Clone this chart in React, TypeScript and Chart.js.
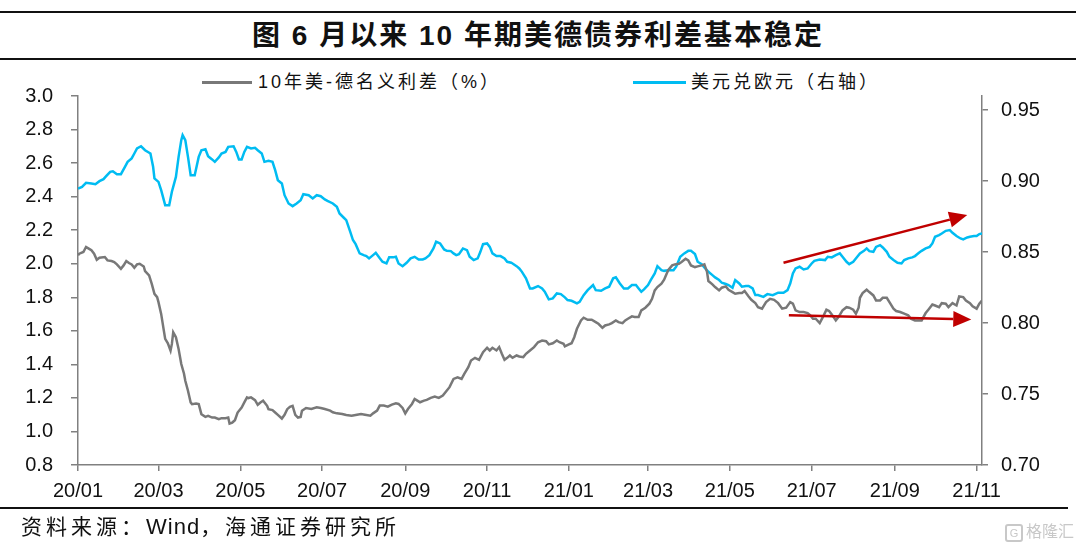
import React, { useEffect, useRef } from "react";
import { Chart, registerables } from "chart.js";

Chart.register(...registerables);

const FONT = '"Liberation Sans", "Noto Sans CJK SC", sans-serif';

// x axis: days since 2020-01-01
const tickDays = [0, 60, 121, 182, 244, 305, 366, 425, 486, 547, 609, 670];
const tickLabels = ["20/01", "20/03", "20/05", "20/07", "20/09", "20/11", "21/01", "21/03", "21/05", "21/07", "21/09", "21/11"];
const leftTicks = [0.8, 1.0, 1.2, 1.4, 1.6, 1.8, 2.0, 2.2, 2.4, 2.6, 2.8, 3.0];
const rightTicks = [0.7, 0.75, 0.8, 0.85, 0.9, 0.95];

// 10年美-德名义利差（%）
const spreadDays = [
  0, 1, 4, 6, 8, 10, 12, 14, 16, 20, 22, 25, 27, 29, 32, 34, 36, 38, 40, 42, 44, 46, 49, 50, 53, 55, 57, 59,
  60, 62, 64, 65, 67, 69, 70, 71, 73, 75, 77, 79, 80, 82, 84, 85, 88, 90, 92, 95, 97, 100, 102, 105, 107, 110,
  112, 113, 115, 117, 119, 122, 124, 126, 127, 129, 132, 134, 136, 138, 141, 142, 145, 147, 149, 152, 154, 156,
  158, 160, 162, 164, 166, 167, 170, 174, 178, 181, 184, 188, 190, 193, 197, 200, 204, 208, 211, 214, 218, 220,
  223, 225, 228, 231, 234, 237, 239, 242, 244, 246, 249, 251, 253, 255, 258, 260, 263, 266, 269, 272, 275, 277,
  280, 283, 286, 288, 291, 293, 296, 299, 302, 305, 307, 309, 312, 314, 316, 318, 320, 322, 324, 327, 329, 332,
  334, 337, 340, 343, 346, 349, 351, 354, 357, 359, 362, 363, 366, 368, 370, 372, 375, 377, 380, 383, 386, 388,
  391, 393, 396, 398, 401, 403, 406, 408, 410, 413, 415, 418, 420, 423, 426, 428, 430, 432, 435, 437, 440, 443,
  445, 448, 450, 453, 455, 457, 460, 462, 465, 467, 469, 470, 473, 475, 478, 480, 483, 485, 488, 490, 493, 495,
  497, 500, 502, 505, 507, 510, 513, 516, 519, 522, 525, 528, 531, 533, 535, 538, 541, 544, 546, 548, 550, 553,
  556, 558, 560, 562, 565, 567, 570, 573, 575, 578, 580, 582, 583, 585, 588, 590, 593, 595, 598, 600, 603, 605,
  608, 610, 613, 616, 619, 621, 624, 626, 629, 632, 634, 637, 639, 642, 644, 647, 649, 652, 655, 657, 660, 662,
  665, 667, 670, 672, 674,
];
const spreadValues = [
  2.05, 2.06, 2.07, 2.1, 2.09, 2.08, 2.06, 2.024, 2.036, 2.04, 2.02, 2.016, 2.01, 1.996, 1.97, 1.99, 2.016, 2.004,
  1.996, 1.976, 1.996, 2.0, 1.984, 1.956, 1.93, 1.88, 1.82, 1.801, 1.771, 1.701, 1.601, 1.552, 1.526, 1.482,
  1.522, 1.591, 1.562, 1.492, 1.402, 1.346, 1.302, 1.243, 1.173, 1.163, 1.167, 1.163, 1.103, 1.087, 1.093, 1.083,
  1.083, 1.073, 1.079, 1.079, 1.083, 1.047, 1.053, 1.067, 1.113, 1.143, 1.173, 1.203, 1.199, 1.203, 1.187, 1.159,
  1.173, 1.183, 1.153, 1.133, 1.127, 1.113, 1.099, 1.077, 1.099, 1.133, 1.147, 1.153, 1.099, 1.083, 1.087, 1.124,
  1.14, 1.134, 1.144, 1.14, 1.134, 1.124, 1.114, 1.108, 1.104, 1.098, 1.094, 1.1, 1.104, 1.1, 1.094, 1.108, 1.124,
  1.154, 1.154, 1.148, 1.16, 1.168, 1.164, 1.14, 1.108, 1.134, 1.164, 1.194, 1.184, 1.174, 1.184, 1.188, 1.2,
  1.208, 1.2, 1.214, 1.244, 1.264, 1.313, 1.323, 1.313, 1.343, 1.383, 1.423, 1.439, 1.427, 1.473, 1.499, 1.483,
  1.499, 1.483, 1.503, 1.463, 1.427, 1.439, 1.453, 1.439, 1.453, 1.447, 1.443, 1.463, 1.483, 1.503, 1.532, 1.542,
  1.538, 1.519, 1.526, 1.542, 1.532, 1.523, 1.507, 1.519, 1.526, 1.562, 1.612, 1.662, 1.678, 1.666, 1.666, 1.652,
  1.642, 1.618, 1.632, 1.638, 1.646, 1.662, 1.652, 1.646, 1.662, 1.672, 1.686, 1.682, 1.682, 1.722, 1.738, 1.762,
  1.791, 1.841, 1.861, 1.881, 1.905, 1.961, 1.99, 1.996, 2.0, 2.01, 2.03, 2.02, 1.99, 1.98, 1.984, 1.99, 1.996,
  1.951, 1.897, 1.877, 1.861, 1.841, 1.857, 1.865, 1.845, 1.831, 1.821, 1.825, 1.825, 1.837, 1.805, 1.785, 1.765,
  1.741, 1.732, 1.771, 1.791, 1.785, 1.765, 1.732, 1.738, 1.771, 1.762, 1.722, 1.712, 1.712, 1.706, 1.692, 1.672,
  1.672, 1.646, 1.692, 1.726, 1.718, 1.698, 1.662, 1.682, 1.722, 1.741, 1.738, 1.726, 1.702, 1.738, 1.797, 1.825,
  1.845, 1.831, 1.811, 1.781, 1.781, 1.797, 1.797, 1.771, 1.732, 1.718, 1.712, 1.702, 1.692, 1.672, 1.662, 1.662,
  1.662, 1.706, 1.726, 1.757, 1.751, 1.741, 1.765, 1.762, 1.741, 1.765, 1.751, 1.805, 1.801, 1.781, 1.765, 1.746,
  1.732, 1.762, 1.781,
];

// 美元兑欧元（右轴）
const usdEurDays = [
  0, 3, 6, 10, 13, 16, 19, 21, 24, 26, 29, 32, 35, 37, 40, 42, 44, 47, 50, 54, 56, 57, 60, 62, 64, 65, 68, 70, 72,
  73, 75, 77, 78, 80, 82, 84, 87, 90, 92, 95, 97, 100, 102, 105, 107, 110, 112, 116, 118, 120, 122, 124, 126, 129,
  132, 134, 137, 139, 142, 145, 147, 149, 152, 154, 157, 160, 163, 166, 168, 172, 175, 178, 181, 184, 186, 190,
  193, 195, 198, 200, 203, 205, 207, 210, 213, 215, 217, 220, 222, 225, 227, 230, 232, 235, 237, 239, 242, 245,
  248, 251, 254, 257, 259, 262, 265, 267, 270, 273, 275, 278, 280, 282, 284, 287, 290, 292, 295, 298, 300, 302,
  305, 307, 309, 312, 315, 318, 320, 323, 324, 327, 329, 331, 334, 337, 339, 343, 346, 348, 351, 354, 357, 360,
  363, 365, 368, 372, 374, 377, 380, 384, 386, 390, 393, 396, 399, 401, 404, 407, 410, 413, 416, 418, 420, 422,
  425, 427, 430, 432, 435, 437, 440, 444, 446, 449, 452, 455, 457, 460, 462, 465, 467, 470, 473, 475, 478, 480,
  483, 485, 488, 490, 493, 495, 498, 500, 503, 505, 507, 511, 514, 518, 522, 526, 529, 531, 533, 535, 538, 541,
  544, 547, 549, 553, 557, 559, 562, 565, 568, 570, 573, 575, 578, 581, 583, 586, 588, 590, 593, 595, 598, 600,
  603, 605, 608, 611, 614, 616, 619, 622, 624, 627, 629, 632, 635, 637, 639, 642, 644, 647, 650, 652, 655, 658,
  660, 663, 665, 668, 670, 672, 674,
];
const usdEurValues = [
  0.8948, 0.896, 0.8988, 0.8984, 0.8979, 0.9, 0.9014, 0.9035, 0.9066, 0.907, 0.9049, 0.9049, 0.9101, 0.9136,
  0.916, 0.9195, 0.923, 0.9246, 0.9218, 0.9195, 0.9101, 0.9019, 0.8995, 0.8937, 0.8866, 0.8831, 0.8831, 0.8925,
  0.8995, 0.903, 0.9171, 0.9289, 0.9324, 0.9289, 0.9171, 0.9042, 0.9042, 0.9171, 0.9218, 0.9225, 0.9176, 0.9153,
  0.9136, 0.9167, 0.9195, 0.9206, 0.9242, 0.9246, 0.9206, 0.9153, 0.9153, 0.9206, 0.9242, 0.923, 0.9235, 0.9218,
  0.9195, 0.9136, 0.9143, 0.9136, 0.9077, 0.9007, 0.8984, 0.8901, 0.8843, 0.8824, 0.8843, 0.8866, 0.8908, 0.8901,
  0.8878, 0.8901, 0.8894, 0.8871, 0.8861, 0.8843, 0.8819, 0.8772, 0.8744, 0.8725, 0.8643, 0.8585, 0.8556, 0.8491,
  0.8479, 0.8472, 0.8456, 0.8479, 0.8495, 0.8456, 0.8432, 0.842, 0.8463, 0.8463, 0.8467, 0.842, 0.8401, 0.8425,
  0.8456, 0.8467, 0.8448, 0.8448, 0.8456, 0.8479, 0.8526, 0.8573, 0.8561, 0.8519, 0.8509, 0.8507, 0.8491, 0.8479,
  0.8486, 0.8526, 0.8514, 0.8467, 0.8444, 0.8456, 0.8502, 0.8556, 0.8561, 0.8537, 0.8491, 0.8472, 0.8472, 0.8456,
  0.8432, 0.8425, 0.842, 0.8401, 0.8385, 0.8361, 0.8315, 0.8244, 0.8244, 0.8261, 0.8244, 0.8221, 0.8167, 0.8174,
  0.8209, 0.8204, 0.8181, 0.8162, 0.8157, 0.8139, 0.815, 0.8197, 0.8232, 0.8268, 0.8232, 0.8228, 0.8244, 0.8256,
  0.8315, 0.8322, 0.8279, 0.8244, 0.8244, 0.8268, 0.8268, 0.8244, 0.8221, 0.8237, 0.8268, 0.8303, 0.835, 0.8401,
  0.8373, 0.8368, 0.8373, 0.8373, 0.8397, 0.8467, 0.8491, 0.8509, 0.8509, 0.8486, 0.8432, 0.8415, 0.8392, 0.8361,
  0.8338, 0.8322, 0.8303, 0.8284, 0.8275, 0.8268, 0.8249, 0.8303, 0.8279, 0.8256, 0.8261, 0.8261, 0.8244, 0.8197,
  0.8197, 0.8185, 0.8204, 0.8197, 0.8214, 0.8214, 0.8232, 0.8279, 0.835, 0.8385, 0.8397, 0.8378, 0.8385, 0.842,
  0.8439, 0.8448, 0.8444, 0.8467, 0.8463, 0.8479, 0.8491, 0.8467, 0.8432, 0.8415, 0.8432, 0.8467, 0.8491, 0.8509,
  0.8526, 0.8507, 0.8502, 0.8537, 0.8549, 0.8533, 0.8502, 0.8467, 0.8444, 0.8425, 0.842, 0.8444, 0.8456, 0.8463,
  0.8472, 0.8495, 0.8509, 0.8526, 0.8537, 0.8561, 0.8608, 0.862, 0.8631, 0.865, 0.8655, 0.8636, 0.8613, 0.8596,
  0.8589, 0.8603, 0.8608, 0.8613, 0.8613, 0.8627, 0.8631,
];

// red trend arrows, in (day, right-axis value)
const arrowFromDays = [526, 530];
const arrowFromValues = [0.8425, 0.8056];
const arrowToDays = [663, 666];
const arrowToValues = [0.8761, 0.8026];

const arrowPlugin = {
  id: "trendArrows",
  afterDatasetsDraw(chart: any) {
    const { ctx, scales } = chart;
    const x = scales.x;
    const y = scales.yR;
    ctx.save();
    ctx.strokeStyle = "#C00000";
    ctx.fillStyle = "#C00000";
    ctx.lineWidth = 2.5;
    arrowFromDays.forEach((d, i) => {
      const x0 = x.getPixelForValue(d);
      const y0 = y.getPixelForValue(arrowFromValues[i]);
      const x1 = x.getPixelForValue(arrowToDays[i]);
      const y1 = y.getPixelForValue(arrowToValues[i]);
      const ang = Math.atan2(y1 - y0, x1 - x0);
      const len = 18;
      const half = 8;
      const bx = x1 - len * Math.cos(ang);
      const by = y1 - len * Math.sin(ang);
      ctx.beginPath();
      ctx.moveTo(x0, y0);
      ctx.lineTo(bx, by);
      ctx.stroke();
      ctx.beginPath();
      ctx.moveTo(x1, y1);
      ctx.lineTo(bx + half * Math.sin(ang), by - half * Math.cos(ang));
      ctx.lineTo(bx - half * Math.sin(ang), by + half * Math.cos(ang));
      ctx.closePath();
      ctx.fill();
    });
    ctx.restore();
  },
};

const axisGrid = {
  drawOnChartArea: false,
  drawTicks: true,
  color: "#808080",
  lineWidth: 1.5,
};

const SpreadChart = () => {
  const canvasRef = useRef<HTMLCanvasElement>(null);

  useEffect(() => {
    if (!canvasRef.current) return;
    const chart = new Chart(canvasRef.current, {
      type: "line",
      data: {
        datasets: [
          {
            label: "10年美-德名义利差（%）",
            data: spreadDays.map((d, i) => ({ x: d, y: spreadValues[i] })),
            borderColor: "#787878",
            borderWidth: 2.5,
            yAxisID: "y",
          },
          {
            label: "美元兑欧元（右轴）",
            data: usdEurDays.map((d, i) => ({ x: d, y: usdEurValues[i] })),
            borderColor: "#00BCF2",
            borderWidth: 2.5,
            yAxisID: "yR",
          },
        ],
      },
      options: {
        animation: false,
        responsive: false,
        devicePixelRatio: 1,
        layout: { padding: { top: 96, left: 0, right: 0, bottom: 0 } },
        elements: { point: { radius: 0 }, line: { tension: 0 } },
        plugins: { legend: { display: false }, tooltip: { enabled: false } },
        scales: {
          x: {
            type: "linear",
            min: 0,
            max: 674,
            afterBuildTicks: (s: any) => {
              s.ticks = tickDays.map((v) => ({ value: v }));
            },
            afterFit: (s: any) => {
              s.height = 85;
            },
            ticks: {
              autoSkip: false,
              maxRotation: 0,
              padding: 8,
              color: "#111",
              font: { family: FONT, size: 20 },
              callback: (_v: any, i: number) => tickLabels[i],
            },
            grid: { ...axisGrid, tickLength: 6 },
            border: { color: "#808080", width: 1.5 },
          },
          y: {
            position: "left",
            min: 0.8,
            max: 3.0,
            afterBuildTicks: (s: any) => {
              s.ticks = leftTicks.map((v) => ({ value: v }));
            },
            afterFit: (s: any) => {
              s.width = 78;
            },
            ticks: {
              padding: 18,
              color: "#111",
              font: { family: FONT, size: 20 },
              callback: (v: any) => Number(v).toFixed(1),
            },
            grid: { ...axisGrid, tickLength: 7 },
            border: { color: "#808080", width: 1.5 },
          },
          yR: {
            position: "right",
            min: 0.7,
            max: 0.96,
            afterBuildTicks: (s: any) => {
              s.ticks = rightTicks.map((v) => ({ value: v }));
            },
            afterFit: (s: any) => {
              s.width = 98;
            },
            ticks: {
              padding: 13,
              color: "#111",
              font: { family: FONT, size: 20 },
              callback: (v: any) => Number(v).toFixed(2),
            },
            grid: { ...axisGrid, tickLength: 6 },
            border: { color: "#808080", width: 1.5 },
          },
        },
      },
      plugins: [arrowPlugin],
    });
    return () => {
      chart.destroy();
    };
  }, []);

  return (
    <canvas
      ref={canvasRef}
      width={1080}
      height={550}
      style={{ position: "absolute", left: 0, top: 0, width: 1080, height: 550 }}
    />
  );
};

const App = () => {
  const legendText = {
    position: "absolute" as const,
    top: 70,
    fontSize: 18,
    letterSpacing: 3,
    lineHeight: "24px",
    color: "#111",
    whiteSpace: "nowrap" as const,
  };
  return (
    <div
      style={{
        position: "absolute",
        left: 0,
        top: 0,
        width: 1080,
        height: 550,
        background: "#fff",
        fontFamily: FONT,
        overflow: "hidden",
      }}
    >
      <div style={{ position: "absolute", left: 0, top: 11, width: 1076, borderTop: "2px solid #111" }} />
      <div
        style={{
          position: "absolute",
          left: 0,
          top: 14,
          width: 1076,
          height: 44,
          lineHeight: "44px",
          textAlign: "center",
          fontSize: 28,
          fontWeight: "bold",
          letterSpacing: 2,
          color: "#111",
          whiteSpace: "nowrap",
        }}
      >
        图 6 月以来 10 年期美德债券利差基本稳定
      </div>
      <div style={{ position: "absolute", left: 0, top: 58, width: 1076, borderTop: "2px solid #111" }} />

      <div style={{ position: "absolute", left: 202, top: 81, width: 50, height: 3, background: "#787878" }} />
      <div style={{ ...legendText, left: 258 }}>10年美-德名义利差（%）</div>
      <div style={{ position: "absolute", left: 633, top: 81, width: 53, height: 3, background: "#00BCF2" }} />
      <div style={{ ...legendText, left: 691 }}>美元兑欧元（右轴）</div>

      <SpreadChart />

      <div style={{ position: "absolute", left: 0, top: 507, width: 1068, borderTop: "2px solid #111" }} />
      <div
        style={{
          position: "absolute",
          left: 21,
          top: 514,
          fontSize: 21,
          letterSpacing: 4,
          lineHeight: "26px",
          color: "#111",
          whiteSpace: "nowrap",
        }}
      >
        资料来源：<span style={{ fontSize: 22, letterSpacing: 1 }}>Wind</span>，海通证券研究所
      </div>
      <div
        style={{
          position: "absolute",
          left: 1005,
          top: 522,
          fontSize: 16,
          lineHeight: "20px",
          color: "#c8c8c8",
          whiteSpace: "nowrap",
        }}
      >
        <span
          style={{
            display: "inline-block",
            width: 14,
            height: 14,
            border: "2px solid #c8c8c8",
            borderRadius: 3,
            fontSize: 11,
            lineHeight: "14px",
            textAlign: "center",
            marginRight: 3,
            verticalAlign: "middle",
          }}
        >
          G
        </span>
        格隆汇
      </div>
    </div>
  );
};

export default App;
